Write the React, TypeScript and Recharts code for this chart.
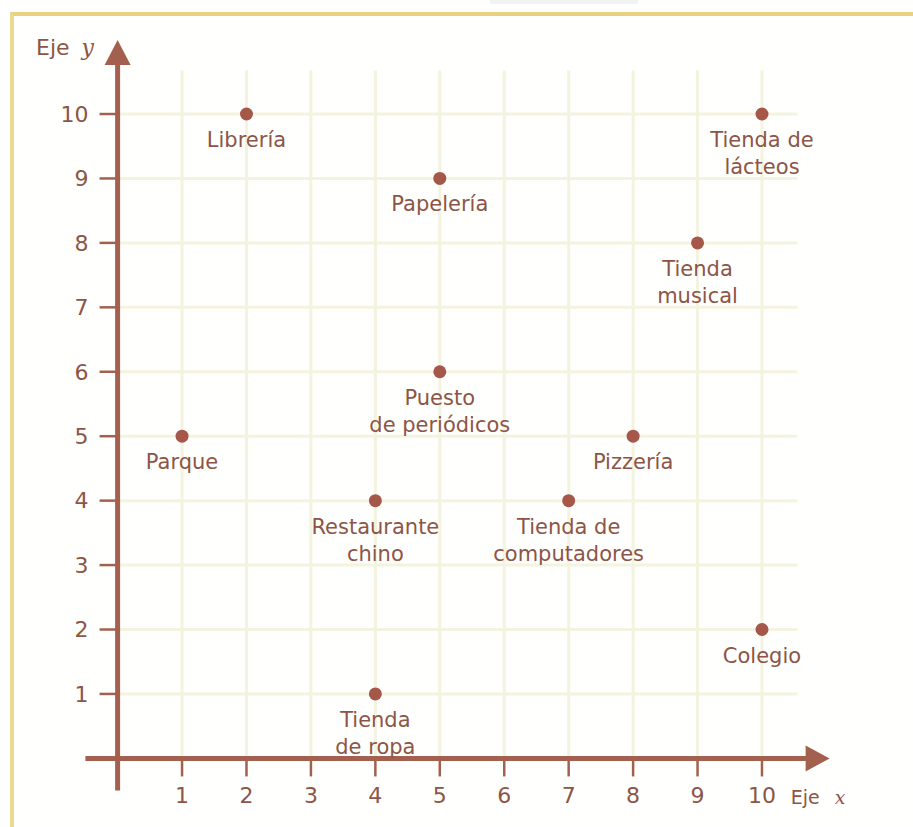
import React from "react";
import {
  ScatterChart,
  Scatter,
  XAxis,
  YAxis,
  ReferenceLine,
  ReferenceDot,
} from "recharts";

// places on the map (label lines split by \n)
const placeLabels = [
  "Librería",
  "Tienda de\nlácteos",
  "Papelería",
  "Tienda\nmusical",
  "Puesto\nde periódicos",
  "Parque",
  "Pizzería",
  "Restaurante\nchino",
  "Tienda de\ncomputadores",
  "Colegio",
  "Tienda\nde ropa",
];
const placeX = [2, 10, 5, 9, 5, 1, 8, 4, 7, 10, 4];
const placeY = [10, 10, 9, 8, 6, 5, 5, 4, 4, 2, 1];

const xTicks = [1, 2, 3, 4, 5, 6, 7, 8, 9, 10];
const yTicks = [1, 2, 3, 4, 5, 6, 7, 8, 9, 10];

// how far the grid and axes run, in axis units
const gridTop = 10.68;
const gridRight = 10.55;
const axisStart = -0.5;
const xAxisEnd = 11.05;
const yAxisEnd = 11.15;
const tickLen = 0.28;

const data = placeX.map((x, i) => ({ x, y: placeY[i], label: placeLabels[i] }));

const FONT = "'DejaVu Sans', Verdana, sans-serif";
const SERIF = "'DejaVu Serif', 'Liberation Serif', serif";
const TEXT = "#8c5547";
const AXIS = "#a4604f";
const DOT = "#a5574a";
const GRID = "#f4f3df";

const PlaceDot = (props: any) => {
  const { cx, cy, payload } = props;
  const lines: string[] = payload.label.split("\n");
  return (
    <g>
      <circle cx={cx} cy={cy} r={6.5} fill={DOT} />
      <text textAnchor="middle" fill={TEXT} fontSize={21} fontFamily={FONT}>
        {lines.map((l, i) => (
          <tspan key={i} x={cx} y={cy + 33 + i * 27}>
            {l}
          </tspan>
        ))}
      </text>
    </g>
  );
};

const YArrow = (props: any) => {
  const { cx, cy } = props;
  return (
    <g>
      <polygon
        points={`${cx},${cy} ${cx - 13},${cy + 25} ${cx + 13},${cy + 25}`}
        fill={AXIS}
      />
      <text x={cx - 48} y={cy + 15} textAnchor="end" fill={TEXT} fontSize={22} fontFamily={FONT}>
        Eje
      </text>
      <text x={cx - 36} y={cy + 15} fill={TEXT} fontSize={22} fontFamily={SERIF} fontStyle="italic">
        y
      </text>
    </g>
  );
};

const XArrow = (props: any) => {
  const { cx, cy } = props;
  return (
    <g>
      <polygon
        points={`${cx},${cy} ${cx - 24},${cy - 13} ${cx - 24},${cy + 13}`}
        fill={AXIS}
      />
      <text x={cx - 39} y={cy + 46} fill={TEXT} fontSize={19} fontFamily={FONT}>
        Eje
      </text>
      <text x={cx + 5} y={cy + 46} fill={TEXT} fontSize={19} fontFamily={SERIF} fontStyle="italic">
        x
      </text>
    </g>
  );
};

export default function App() {
  const tickStyle = { fill: TEXT, fontSize: 22, fontFamily: FONT };
  return (
    <div
      style={{
        position: "absolute",
        left: 0,
        top: 0,
        width: 913,
        height: 827,
        background: "#fff",
        overflow: "hidden",
      }}
    >
      <div
        style={{
          position: "absolute",
          left: 490,
          top: 0,
          width: 148,
          height: 4,
          background: "#f1f4f0",
        }}
      />
      <div
        style={{
          position: "absolute",
          left: 10,
          top: 12,
          right: -4,
          bottom: -4,
          borderTop: "4px solid #e8d27f",
          borderLeft: "4px solid #ecd98f",
          background: "#fffffd",
        }}
      />
      <div style={{ position: "absolute", left: 0, top: 0 }}>
        <ScatterChart
          width={913}
          height={827}
          margin={{ top: 36.7, right: 73.7, bottom: 6.4, left: 0 }}
        >
          <XAxis
            type="number"
            dataKey="x"
            domain={[-0.5, 11.2]}
            ticks={xTicks}
            allowDataOverflow
            axisLine={false}
            tickLine={false}
            tickSize={0}
            tickMargin={-3}
            height={30}
            tick={tickStyle}
          />
          <YAxis
            type="number"
            dataKey="y"
            domain={[-0.5, 11.2]}
            ticks={yTicks}
            allowDataOverflow
            axisLine={false}
            tickLine={false}
            tickSize={0}
            tickMargin={-3}
            width={85.4}
            tick={tickStyle}
          />
          {xTicks.map((t) => (
            <ReferenceLine
              key={"gx" + t}
              segment={[{ x: t, y: 0 }, { x: t, y: gridTop }]}
              stroke={GRID}
              strokeWidth={3}
              ifOverflow="visible"
            />
          ))}
          {yTicks.map((t) => (
            <ReferenceLine
              key={"gy" + t}
              segment={[{ x: 0, y: t }, { x: gridRight, y: t }]}
              stroke={GRID}
              strokeWidth={3}
              ifOverflow="visible"
            />
          ))}
          {xTicks.map((t) => (
            <ReferenceLine
              key={"tx" + t}
              segment={[{ x: t, y: 0 }, { x: t, y: -tickLen }]}
              stroke={AXIS}
              strokeWidth={2.5}
              ifOverflow="visible"
            />
          ))}
          {yTicks.map((t) => (
            <ReferenceLine
              key={"ty" + t}
              segment={[{ x: -tickLen, y: t }, { x: 0, y: t }]}
              stroke={AXIS}
              strokeWidth={2.5}
              ifOverflow="visible"
            />
          ))}
          <ReferenceLine
            segment={[{ x: axisStart, y: 0 }, { x: xAxisEnd - 0.3, y: 0 }]}
            stroke={AXIS}
            strokeWidth={5}
            ifOverflow="visible"
          />
          <ReferenceLine
            segment={[{ x: 0, y: axisStart }, { x: 0, y: yAxisEnd - 0.3 }]}
            stroke={AXIS}
            strokeWidth={5}
            ifOverflow="visible"
          />
          <ReferenceDot x={0} y={yAxisEnd} r={1} ifOverflow="visible" shape={YArrow} />
          <ReferenceDot x={xAxisEnd} y={0} r={1} ifOverflow="visible" shape={XArrow} />
          <Scatter data={data} shape={PlaceDot} isAnimationActive={false} />
        </ScatterChart>
      </div>
    </div>
  );
}
